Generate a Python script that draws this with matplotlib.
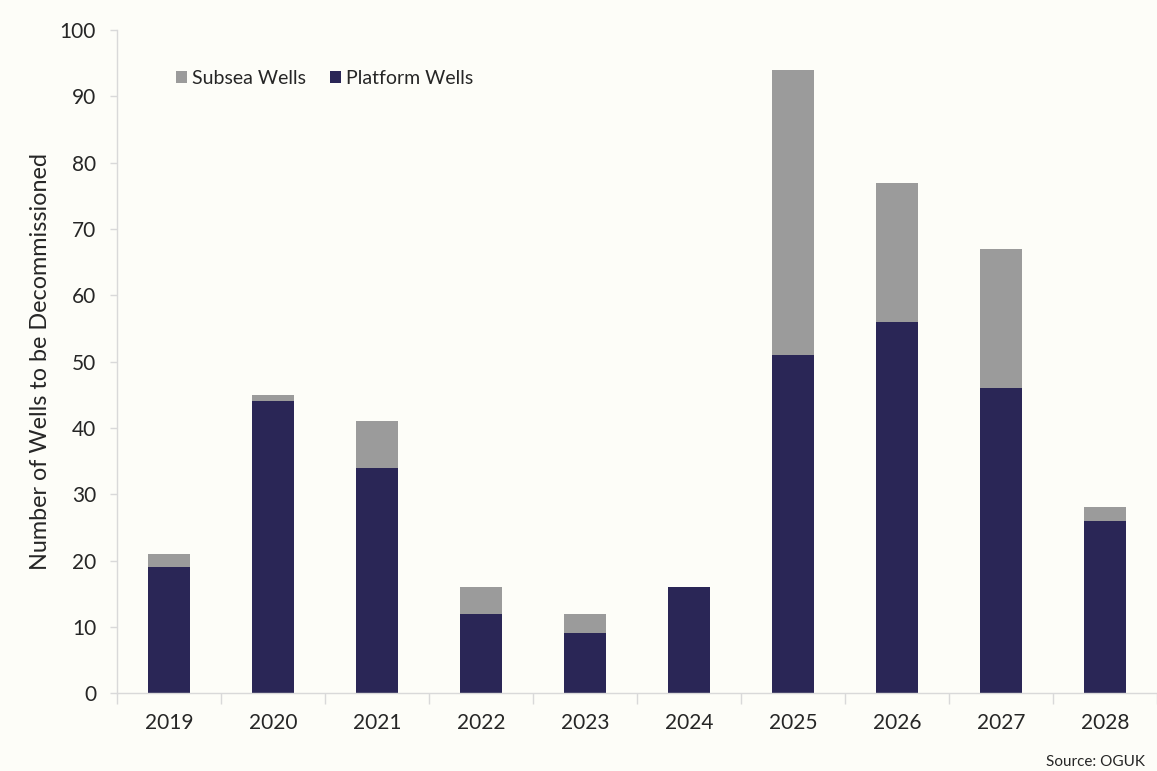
import numpy as np
import matplotlib.pyplot as plt

years = ['2019', '2020', '2021', '2022', '2023', '2024', '2025', '2026', '2027', '2028']
platform = [19, 44, 34, 12, 9, 16, 51, 56, 46, 26]
subsea = [2, 1, 7, 4, 3, 0, 43, 21, 21, 2]

navy = '#2a2656'
grey = '#9b9b9b'
axis_col = '#d9d9d9'
bg = '#fdfdf8'

plt.rcParams['font.family'] = ['Lato', 'DejaVu Sans']

fig = plt.figure(figsize=(11.57, 7.71), dpi=100, facecolor=bg)
ax = fig.add_axes([0.101, 0.101, 0.899, 0.860], facecolor=bg)

x = np.arange(len(years))
ax.bar(x, platform, width=0.4, color=navy, label='Platform Wells', zorder=2)
ax.bar(x, subsea, width=0.4, bottom=platform, color=grey, label='Subsea Wells', zorder=2)

ax.set_xlim(-0.5, len(years) - 0.5)
ax.set_ylim(0, 100)
ax.set_yticks(range(0, 101, 10))
ax.tick_params(axis='y', length=5, width=1, color=axis_col, labelsize=15, pad=10,
               labelcolor='#262626')

# category labels centred on bars, tick marks between categories
ax.set_xticks(x)
ax.set_xticklabels(years)
ax.set_xticks(np.arange(-0.5, len(years), 1), minor=True)
ax.tick_params(axis='x', which='major', length=0, labelsize=15, pad=14, labelcolor='#262626')
ax.tick_params(axis='x', which='minor', length=8, width=1, color=axis_col)

for side in ['top', 'right']:
    ax.spines[side].set_visible(False)
for side in ['left', 'bottom']:
    ax.spines[side].set_color(axis_col)
    ax.spines[side].set_linewidth(1)

ax.set_ylabel('Number of Wells to be Decommissioned', fontsize=16.8, color='#262626', labelpad=6)

handles, labels = ax.get_legend_handles_labels()
ax.legend(handles[::-1], labels[::-1], loc='upper left', bbox_to_anchor=(0.04, 0.966),
          ncol=2, frameon=False, fontsize=14, handlelength=0.55, handleheight=0.55,
          handletextpad=0.3, columnspacing=1.2, labelcolor='#262626')

fig.text(0.990, 0.012, 'Source: OGUK', ha='right', va='center', fontsize=11, color='#262626')

fig.savefig('out.png', dpi=100, facecolor=bg)
